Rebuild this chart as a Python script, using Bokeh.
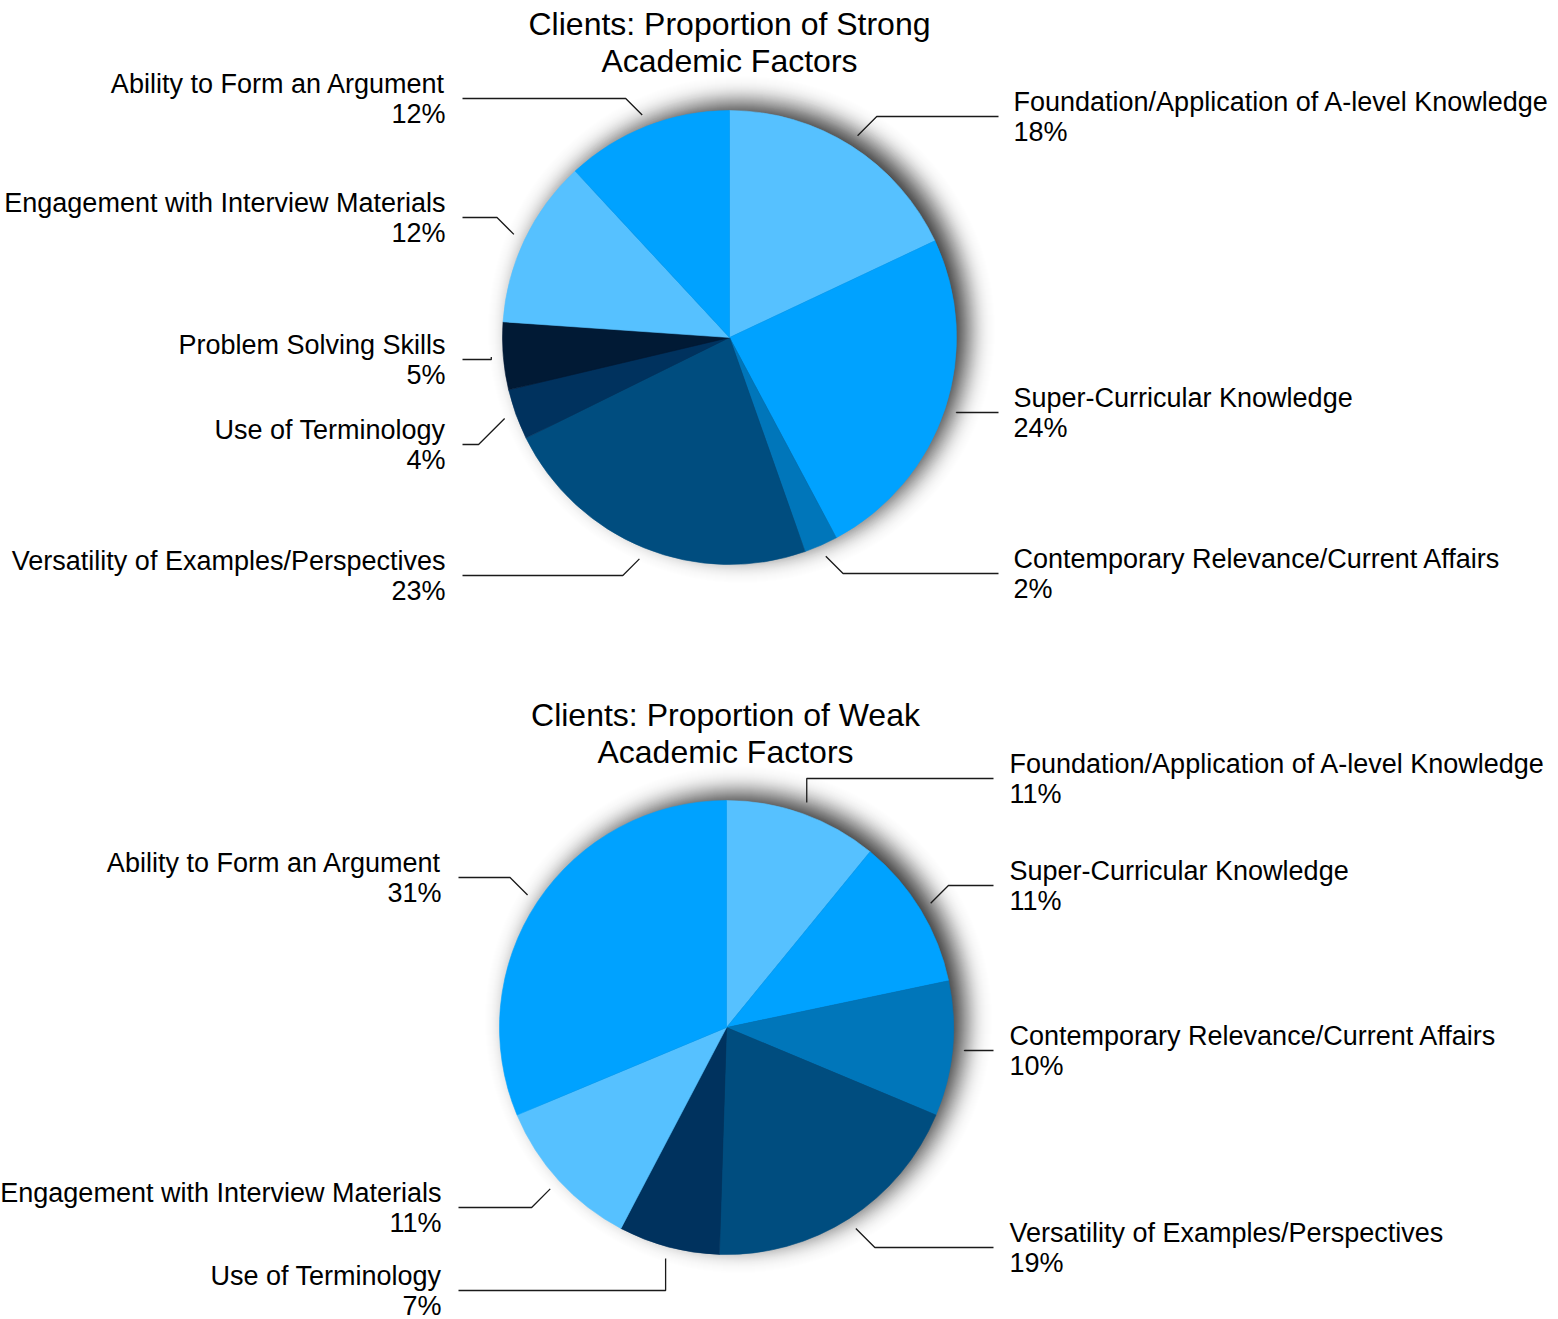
import numpy as np
from math import erf, sqrt, pi
from bokeh.plotting import figure
from bokeh.models import Range1d
from bokeh.core.properties import value
from bokeh.embed import file_html
from bokeh.resources import INLINE

# ---------------- data ----------------
strong_categories = [
    "Foundation/Application of A-level Knowledge",
    "Super-Curricular Knowledge",
    "Contemporary Relevance/Current Affairs",
    "Versatility of Examples/Perspectives",
    "Use of Terminology",
    "Problem Solving Skills",
    "Engagement with Interview Materials",
    "Ability to Form an Argument",
]
strong_values = [18.0, 24.2, 2.4, 23.1, 3.6, 4.8, 12.0, 11.9]

weak_categories = [
    "Foundation/Application of A-level Knowledge",
    "Super-Curricular Knowledge",
    "Contemporary Relevance/Current Affairs",
    "Versatility of Examples/Perspectives",
    "Use of Terminology",
    "Engagement with Interview Materials",
    "Ability to Form an Argument",
]
weak_values = [10.9, 10.8, 9.6, 19.2, 7.2, 11.0, 31.3]

strong_title = ["Clients: Proportion of Strong", "Academic Factors"]
weak_title = ["Clients: Proportion of Weak", "Academic Factors"]

# ---------------- styles ----------------
LIGHT, BRIGHT, MID, DARK, DARKER, DARKEST = "#56C1FF", "#00A2FF", "#0076BA", "#004D7F", "#00325E", "#011A35"
strong_colors = [LIGHT, BRIGHT, MID, DARK, DARKER, DARKEST, LIGHT, BRIGHT]
weak_colors = [LIGHT, BRIGHT, MID, DARK, DARKER, LIGHT, BRIGHT]

# layout (pixel positions, top-left origin)
strong_label_y = [116, 412, 573, 575, 444, 359, 217, 98]
strong_elbow = ["d", "d", "d", "d", "d", "d", "d", "d"]
weak_label_y = [778, 885, 1050, 1247, 1290, 1207, 877]
weak_elbow = ["v", "d", "d", "d", "v", "d", "d"]

FONT = "Liberation Sans"
LABEL_SIZE = "27px"
TITLE_SIZE = "32px"
W, H = 1558, 1319

p = figure(width=W, height=H, x_range=Range1d(0, W), y_range=Range1d(0, H),
           output_backend="svg", toolbar_location=None, min_border=0,
           x_axis_type=None, y_axis_type=None)
p.grid.visible = False
p.outline_line_color = None
p.background_fill_color = "white"
p.border_fill_color = "white"


def Y(py):
    return H - py


def Phi(z):
    return 0.5 * (1 + erf(z / sqrt(2)))


def draw_shadow(cx, cy_px, R):
    # stacked translucent circles approximating a gaussian-blurred disc
    sx, sy = cx + 12, Y(cy_px) + 8
    Rs = R - 2
    sigma, M = 13.0, 0.8
    radii = np.arange(Rs + 50, Rs - 50, -1.0)
    prev = 0.0
    xs, ys, rs, alphas = [], [], [], []
    for r in radii:
        T = M * Phi((Rs - (r - 0.5)) / sigma)
        a = 1 - (1 - T) / (1 - prev) if prev < 1 else 0
        a = max(0.0, min(1.0, a))
        prev = T
        xs.append(sx); ys.append(sy); rs.append(r); alphas.append(a)
    p.circle(x=xs, y=ys, radius=rs, fill_color="black", fill_alpha=alphas, line_color=None)


def draw_pie(cx, cy_px, R, values, colors, cats, label_y, elbow, title,
             title_x, title_y0, rline_x, rtext_x, lline_x, ltext_x):
    draw_shadow(cx, cy_px, R)
    cy = Y(cy_px)
    fr = np.array(values) / sum(values)
    cum = np.concatenate([[0.0], np.cumsum(fr)])
    start = pi / 2 - 2 * pi * cum[:-1]
    end = pi / 2 - 2 * pi * cum[1:]
    p.wedge(x=cx, y=cy, radius=R, start_angle=start, end_angle=end, direction="clock",
            fill_color=colors, line_color=colors, line_width=0.6)

    mid = 2 * pi * (cum[:-1] + cum[1:]) / 2
    r0 = R + 12
    lxs, lys = [], []
    for i, m in enumerate(mid):
        sx = cx + r0 * np.sin(m)
        sy_px = cy_px - r0 * np.cos(m)
        ly = label_y[i]
        right = m < pi
        dy = ly - sy_px
        if abs(dy) < 3:
            ex = sx
        elif elbow[i] == "v":
            ex = sx
        else:
            ex = sx + (abs(dy) if right else -abs(dy))
        endx = rline_x if right else lline_x
        lxs.append([sx, ex, endx])
        lys.append([Y(sy_px), Y(ly), Y(ly)])
        tx = rtext_x if right else ltext_x
        align = "left" if right else "right"
        pct = f"{round(values[i])}%"
        p.text(x=[tx, tx], y=[Y(ly - 15), Y(ly + 15)], text=[cats[i], pct],
               text_font=value(FONT), text_font_size=LABEL_SIZE, text_color="black",
               text_align=align, text_baseline="middle")
    p.multi_line(xs=lxs, ys=lys, line_color="#1a1a1a", line_width=1.3)

    p.text(x=[title_x, title_x], y=[Y(title_y0), Y(title_y0 + 37)], text=title,
           text_font=value(FONT), text_font_size=TITLE_SIZE, text_color="black",
           text_align="center", text_baseline="middle")


draw_pie(729, 337, 227, strong_values, strong_colors, strong_categories,
         strong_label_y, strong_elbow, strong_title, 729, 23, 998, 1013, 462, 445)
draw_pie(726, 1027, 227, weak_values, weak_colors, weak_categories,
         weak_label_y, weak_elbow, weak_title, 725, 714, 993, 1009, 458, 441)

open("out.html", "w").write(file_html(p, INLINE))
